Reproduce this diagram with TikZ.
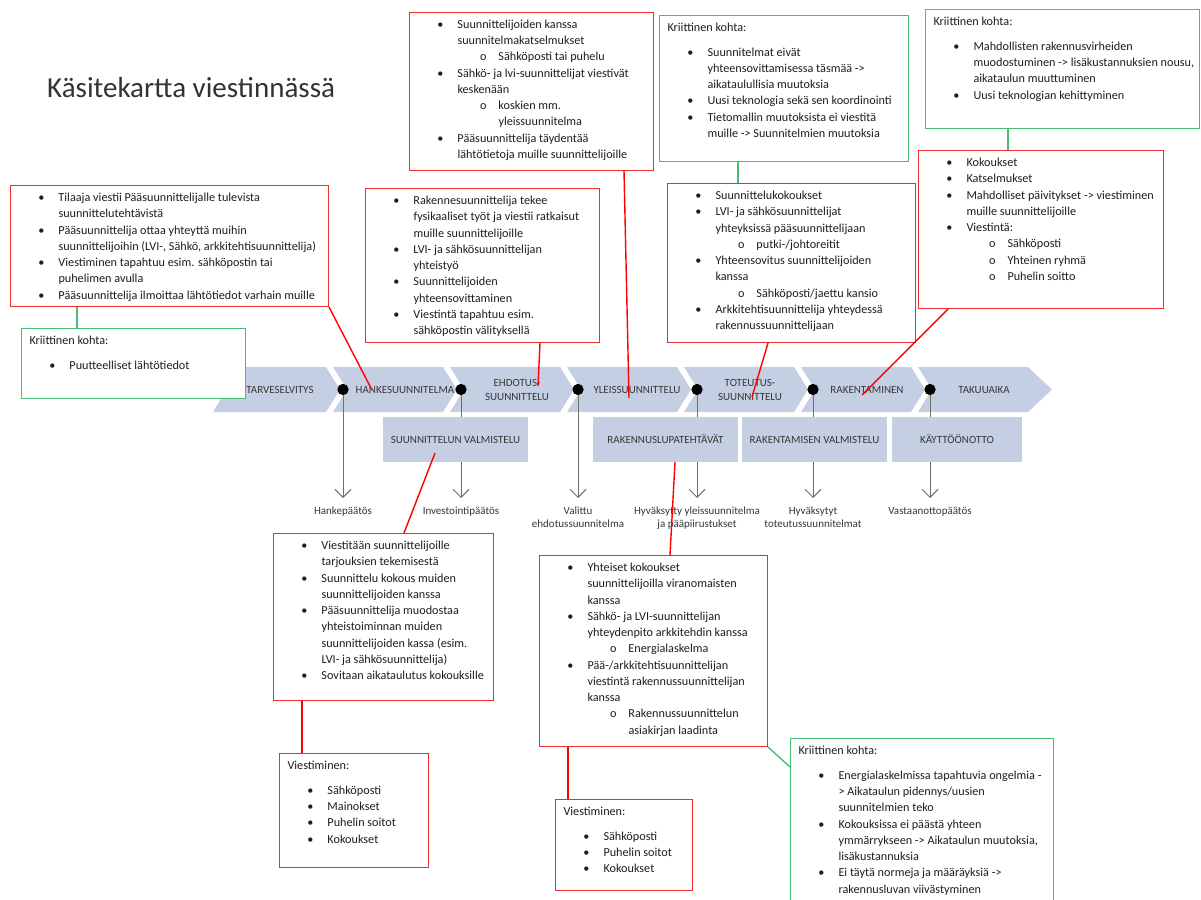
\documentclass[tikz,border=0pt]{standalone}
\usepackage{fontspec}
\setmainfont{Carlito}
\usetikzlibrary{arrows.meta,calc}
\definecolor{rd}{RGB}{235,45,45}
\definecolor{rline}{RGB}{255,0,0}
\definecolor{gn}{RGB}{70,190,115}
\definecolor{chev}{RGB}{197,207,228}
\definecolor{ctext}{RGB}{55,55,55}
\definecolor{btext}{RGB}{30,30,30}
\definecolor{agray}{RGB}{110,110,110}
\newcommand\lnK[1]{\par\noindent\hspace*{8pt}\rlap{#1}\par}
\newcommand\lnB[1]{\par\noindent\hspace*{48pt}\llap{\textbullet\hspace{14pt}}\rlap{#1}\par}
\newcommand\lnC[1]{\par\noindent\hspace*{48pt}\rlap{#1}\par}
\newcommand\lnS[1]{\par\noindent\hspace*{89pt}\llap{o\hspace{12pt}}\rlap{#1}\par}
\newcommand\lnSC[1]{\par\noindent\hspace*{89pt}\rlap{#1}\par}
\newcommand\lnGap{\par\vskip 8.5pt}
\newcommand\boxtext[3]{\parbox[t][#2][t]{#1}{\fontsize{12.2}{16.25}\selectfont\vskip-0.25pt\prevdepth=0pt #3}}
\tikzset{
  rbox/.style={draw=rd, fill=white, line width=1pt, inner sep=0pt, anchor=north west, text=btext},
  gbox/.style={draw=gn, fill=white, line width=1pt, inner sep=0pt, anchor=north west, text=btext},
  rowbox/.style={fill=chev, inner sep=0pt, minimum height=45pt, text=ctext, font=\fontsize{11}{13.5}\selectfont},
  chlabel/.style={inner sep=0pt, text=ctext, align=center, font=\fontsize{11}{13.5}\selectfont},
  milestone/.style={inner sep=0pt, anchor=north, align=center, text=ctext, font=\fontsize{11}{13}\selectfont},
  dot/.style={circle, fill=black, inner sep=0pt, minimum size=11pt},
  arrowline/.style={draw=agray, line width=1pt, -{Straight Barb[length=8pt,width=16pt]}},
  redline/.style={draw=rline, line width=1.4pt},
  greenline/.style={draw=gn, line width=1.4pt},
}
\begin{document}
\begin{tikzpicture}[x=1pt,y=-1pt]
\useasboundingbox (0,0) rectangle (1201,899);
\fill[white] (0,0) rectangle (1201,899);

% title
\node[anchor=base west, inner sep=0pt, font=\fontsize{29}{31}\selectfont, text=black!80] (title) at (47,97) {Käsitekartta viestinnässä};

% chevron band
\fill[chev] (240,367) -- (326,367) -- (340,389.5) -- (326,412) -- (213,412) -- cycle;
\foreach \L in {333,450,567,684,801}{
  \fill[chev] (\L,367) -- ++(110,0) -- ++(14,22.5) -- ++(-14,22.5) -- (\L,412) -- ++(14,-22.5) -- cycle;
}
\fill[chev] (918,367) -- (1028,367) -- (1052,389.5) -- (1028,412) -- (918,412) -- (932,389.5) -- cycle;

% milestone labels
\node[milestone] (m1) at (343,507) {Hankepäätös};
\node[milestone] (m2) at (461,507) {Investointipäätös};
\node[milestone] (m3) at (578,507) {Valittu\\ehdotussuunnitelma};
\node[milestone] (m4) at (697,507) {Hyväksytty yleissuunnitelma\\ja pääpiirustukset};
\node[milestone] (m5) at (813,507) {Hyväksytyt\\toteutussuunnitelmat};
\node[milestone] (m6) at (930,507) {Vastaanottopäätös};

% dots and arrows
\foreach \i/\x in {1/343,2/461,3/578,4/697,5/813,6/930}{
  \node[dot] (d\i) at (\x,389.5) {};
  \coordinate (e\i) at (\x,498);
  \draw[arrowline] (d\i.center) -- (e\i);
  \node[dot] at (d\i) {};
}

% second row
\node[rowbox, minimum width=145pt] (s1) at (455.5,439.5) {SUUNNITTELUN VALMISTELU};
\node[rowbox, minimum width=145pt] (s2) at (665.5,439.5) {RAKENNUSLUPATEHTÄVÄT};
\node[rowbox, minimum width=145pt] (s3) at (814.5,439.5) {RAKENTAMISEN VALMISTELU};
\node[rowbox, minimum width=130pt] (s4) at (957,439.5) {KÄYTTÖÖNOTTO};

% chevron labels
\node[chlabel] (c1) at (280,390) {TARVESELVITYS};
\node[chlabel] (c2) at (405,390) {HANKESUUNNITELMA};
\node[chlabel] (c3) at (517,390) {EHDOTUS-\\SUUNNITTELU};
\node[chlabel] (c4) at (637,390) {YLEISSUUNNITTELU};
\node[chlabel] (c5) at (750,390) {TOTEUTUS-\\SUUNNITTELU};
\node[chlabel] (c6) at (867,390) {RAKENTAMINEN};
\node[chlabel] (c7) at (984,390) {TAKUUAIKA};

% boxes
\node[rbox] (b1) at (10,185) {\boxtext{318pt}{121pt}{%
\lnB{Tilaaja viestii Pääsuunnittelijalle tulevista}
\lnC{suunnittelutehtävistä}
\lnB{Pääsuunnittelija ottaa yhteyttä muihin}
\lnC{suunnittelijoihin (LVI-, Sähkö, arkkitehtisuunnittelija)}
\lnB{Viestiminen tapahtuu esim. sähköpostin tai}
\lnC{puhelimen avulla}
\lnB{Pääsuunnittelija ilmoittaa lähtötiedot varhain muille}}};

\node[gbox] (g1) at (21,328) {\boxtext{224pt}{70pt}{%
\lnK{Kriittinen kohta:}\lnGap
\lnB{Puutteelliset lähtötiedot}}};

\node[rbox] (b2) at (365,188) {\boxtext{234pt}{154pt}{%
\lnB{Rakennesuunnittelija tekee}
\lnC{fysikaaliset työt ja viestii ratkaisut}
\lnC{muille suunnittelijoille}
\lnB{LVI- ja sähkösuunnittelijan}
\lnC{yhteistyö}
\lnB{Suunnittelijoiden}
\lnC{yhteensovittaminen}
\lnB{Viestintä tapahtuu esim.}
\lnC{sähköpostin välityksellä}}};

\node[rbox] (b3) at (409,12) {\boxtext{244pt}{158pt}{%
\lnB{Suunnittelijoiden kanssa}
\lnC{suunnitelmakatselmukset}
\lnS{Sähköposti tai puhelu}
\lnB{Sähkö- ja lvi-suunnittelijat viestivät}
\lnC{keskenään}
\lnS{koskien mm.}
\lnSC{yleissuunnitelma}
\lnB{Pääsuunnittelija täydentää}
\lnC{lähtötietoja muille suunnittelijoille}}};

\node[gbox] (g2) at (659,15) {\boxtext{249pt}{146pt}{%
\lnK{Kriittinen kohta:}\lnGap
\lnB{Suunnitelmat eivät}
\lnC{yhteensovittamisessa täsmää ->}
\lnC{aikataulullisia muutoksia}
\lnB{Uusi teknologia sekä sen koordinointi}
\lnB{Tietomallin muutoksista ei viestitä}
\lnC{muille -> Suunnitelmien muutoksia}}};

\node[gbox] (g3) at (925,9) {\boxtext{274pt}{119pt}{%
\lnK{Kriittinen kohta:}\lnGap
\lnB{Mahdollisten rakennusvirheiden}
\lnC{muodostuminen -> lisäkustannuksien nousu,}
\lnC{aikataulun muuttuminen}
\lnB{Uusi teknologian kehittyminen}}};

\node[rbox] (b6) at (667,183) {\boxtext{248pt}{159pt}{%
\lnB{Suunnittelukokoukset}
\lnB{LVI- ja sähkösuunnittelijat}
\lnC{yhteyksissä pääsuunnittelijaan}
\lnS{putki-/johtoreitit}
\lnB{Yhteensovitus suunnittelijoiden}
\lnC{kanssa}
\lnS{Sähköposti/jaettu kansio}
\lnB{Arkkitehtisuunnittelija yhteydessä}
\lnC{rakennussuunnittelijaan}}};

\node[rbox] (b7) at (918,150) {\boxtext{245pt}{158pt}{%
\lnB{Kokoukset}
\lnB{Katselmukset}
\lnB{Mahdolliset päivitykset -> viestiminen}
\lnC{muille suunnittelijoille}
\lnB{Viestintä:}
\lnS{Sähköposti}
\lnS{Yhteinen ryhmä}
\lnS{Puhelin soitto}}};

\node[rbox] (b8) at (273,533) {\boxtext{220pt}{167pt}{%
\lnB{Viestitään suunnittelijoille}
\lnC{tarjouksien tekemisestä}
\lnB{Suunnittelu kokous muiden}
\lnC{suunnittelijoiden kanssa}
\lnB{Pääsuunnittelija muodostaa}
\lnC{yhteistoiminnan muiden}
\lnC{suunnittelijoiden kassa (esim.}
\lnC{LVI- ja sähkösuunnittelija)}
\lnB{Sovitaan aikataulutus kokouksille}}};

\node[rbox] (b9) at (539,555) {\boxtext{228pt}{191pt}{%
\lnB{Yhteiset kokoukset}
\lnC{suunnittelijoilla viranomaisten}
\lnC{kanssa}
\lnB{Sähkö- ja LVI-suunnittelijan}
\lnC{yhteydenpito arkkitehdin kanssa}
\lnS{Energialaskelma}
\lnB{Pää-/arkkitehtisuunnittelijan}
\lnC{viestintä rakennussuunnittelijan}
\lnC{kanssa}
\lnS{Rakennussuunnittelun}
\lnSC{asiakirjan laadinta}}};

\node[rbox] (b10) at (279,753) {\boxtext{149pt}{114pt}{%
\lnK{Viestiminen:}\lnGap
\lnB{Sähköposti}
\lnB{Mainokset}
\lnB{Puhelin soitot}
\lnB{Kokoukset}}};

\node[rbox] (b11) at (555,799) {\boxtext{137pt}{91pt}{%
\lnK{Viestiminen:}\lnGap
\lnB{Sähköposti}
\lnB{Puhelin soitot}
\lnB{Kokoukset}}};

\node[gbox] (g4) at (790,738) {\boxtext{263pt}{172pt}{%
\lnK{Kriittinen kohta:}\lnGap
\lnB{Energialaskelmissa tapahtuvia ongelmia -}
\lnC{> Aikataulun pidennys/uusien}
\lnC{suunnitelmien teko}
\lnB{Kokouksissa ei päästä yhteen}
\lnC{ymmärrykseen -> Aikataulun muutoksia,}
\lnC{lisäkustannuksia}
\lnB{Ei täytä normeja ja määräyksiä ->}
\lnC{rakennusluvan viivästyminen}}};

% connector end points
\coordinate (p1) at (372,390);
\coordinate (p2) at (538,386);
\coordinate (p3) at (629,398);
\coordinate (p4) at (752,397);
\coordinate (p5) at (862,395);
\coordinate (p6) at (435,453);
\coordinate (p7) at (675,462);

% red connectors
\draw[redline] (b1.south east) -- (p1);
\draw[redline] ($(b2.south west)+(175,0)$) -- (p2);
\draw[redline] ($(b3.south west)+(215,0)$) -- (p3);
\draw[redline] ($(b6.south west)+(101,0)$) -- (p4);
\draw[redline] ($(b7.south west)+(30,0)$) -- (p5);
\draw[redline] (p6) -- ($(b8.north west)+(131,0)$);
\draw[redline] (p7) -- ($(b9.north west)+(131,0)$);
\draw[redline] ($(b8.south west)+(29,0)$) -- ($(b10.north west)+(23,0)$);
\draw[redline] ($(b9.south west)+(29,0)$) -- ($(b11.north west)+(13,0)$);

% green connectors
\draw[greenline] ($(b1.south west)+(67,0)$) -- ($(g1.north west)+(56,0)$);
\draw[greenline] ($(g2.south west)+(79,0)$) -- ($(b6.north west)+(71,0)$);
\draw[greenline] ($(g3.south west)+(83,0)$) -- ($(b7.north west)+(90,0)$);
\draw[greenline] (b9.south east) -- ($(g4.north west)+(0,29)$);
\end{tikzpicture}
\end{document}
